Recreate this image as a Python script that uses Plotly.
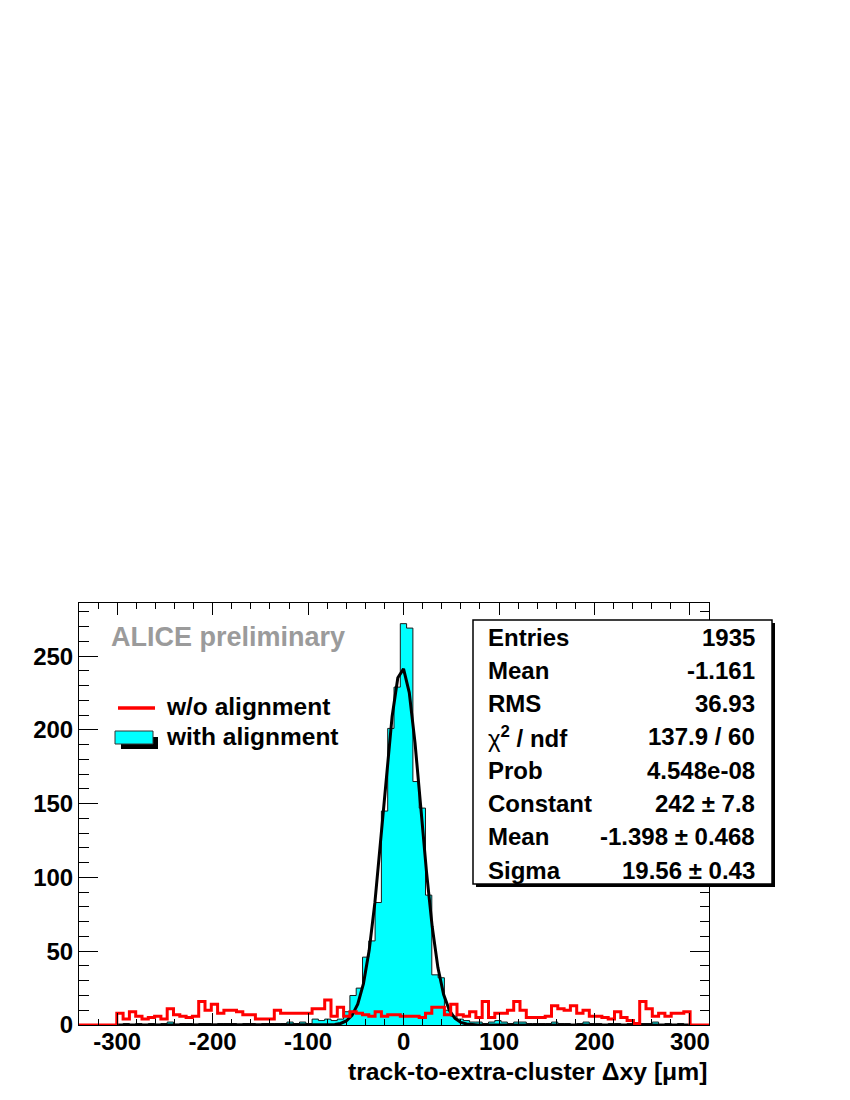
import numpy as np
import plotly.graph_objects as go

# ---------------- data ----------------
x_min, x_max, n_bins = -340.0, 320.0, 100
bin_edges = np.linspace(x_min, x_max, n_bins + 1)

with_alignment = [
    0, 0, 0, 0, 0, 0, 0, 1, 0, 1,
    0, 1, 0, 1, 2, 0, 1, 1, 0, 1,
    1, 0, 1, 1, 1, 0, 1, 1, 0, 1,
    1, 1, 1, 2, 1, 2, 1, 4, 3, 4,
    3, 4, 9, 20, 25, 46, 57, 83, 145, 201,
    229, 272, 269, 165, 147, 88, 34, 32, 10, 6,
    4, 3, 2, 2, 1, 2, 3, 2, 1, 2,
    2, 1, 1, 1, 1, 2, 1, 1, 0, 1,
    2, 1, 1, 0, 1, 1, 0, 1, 0, 1,
    1, 2, 0, 1, 0, 1, 0, 0, 0, 0,
]

without_alignment = [
    0, 0, 0, 0, 0, 0, 8, 4, 9, 6,
    4, 5, 6, 4, 11, 7, 6, 5, 6, 16,
    10, 14, 8, 10, 10, 9, 7, 7, 4, 4,
    4, 10, 8, 8, 8, 8, 8, 11, 11, 17,
    6, 12, 6, 9, 8, 7, 6, 9, 6, 7,
    7, 6, 6, 6, 5, 8, 12, 12, 7, 14,
    7, 6, 9, 5, 16, 5, 8, 8, 10, 16,
    10, 5, 5, 5, 6, 13, 11, 10, 13, 8,
    10, 6, 6, 5, 4, 9, 5, 3, 1, 16,
    11, 6, 8, 6, 8, 8, 9, 0, 0, 0,
]

# Gaussian fit parameters (from stats box)
fit_constant, fit_mean, fit_sigma = 242.0, -1.398, 19.56
fit_range = (-300.0, 300.0)

stat_labels = ["Entries", "Mean", "RMS", "<span style='font-weight:normal'>χ</span><sup>2</sup> / ndf", "Prob",
               "Constant", "Mean", "Sigma"]
stat_values = ["1935", "-1.161", "36.93", "137.9 / 60", "4.548e-08",
               "242 ± 7.8", "-1.398 ± 0.468", "19.56 ± 0.43"]

x_ticks = [-300, -200, -100, 0, 100, 200, 300]
x_ticktext = ["-300", "-200", "-100", "0", "100", "200", "300"]
y_ticks = [0, 50, 100, 150, 200, 250]
y_ticktext = ["0", "50", "100", "150", "200", "250"]

x_title = "track-to-extra-cluster Δxy [μm]"
legend_labels = ["w/o alignment", "with alignment"]
watermark = "ALICE preliminary"

# ---------------- figure ----------------
FONT = "Liberation Sans, Arial, Helvetica, sans-serif"
BODY = 8                      # default page margin around the plot div
W, H = 850 - BODY, 1100 - BODY
L, R, T, B = 79, 709, 603, 1025  # plot area in page pixels


def px_x(px):
    return (px - L) / (R - L)


def px_y(py):
    return (B - py) / (B - T)


fig = go.Figure()

# with alignment (filled step histogram)
fig.add_trace(go.Scatter(
    x=list(bin_edges),
    y=list(with_alignment) + [with_alignment[-1]],
    mode="lines", line=dict(shape="hv", color="#1a1a1a", width=1),
    fill="tozeroy", fillcolor="#00ffff", showlegend=False, hoverinfo="skip",
))

# Gaussian fit
x_fit = np.linspace(fit_range[0], fit_range[1], 101)
y_fit = fit_constant * np.exp(-0.5 * ((x_fit - fit_mean) / fit_sigma) ** 2)
fig.add_trace(go.Scatter(
    x=x_fit, y=y_fit, mode="lines",
    line=dict(color="black", width=3), showlegend=False, hoverinfo="skip",
))

# without alignment (red step outline)
fig.add_trace(go.Scatter(
    x=list(bin_edges),
    y=list(without_alignment) + [without_alignment[-1]],
    mode="lines", line=dict(shape="hv", color="#ff0000", width=3),
    showlegend=False, hoverinfo="skip",
))

tickfont = dict(family=FONT, size=24, color="black", weight="bold")

fig.update_xaxes(
    range=[x_min, x_max], tickmode="array", tickvals=x_ticks, ticktext=x_ticktext,
    ticks="inside", ticklen=12, tickwidth=1, tickcolor="black",
    minor=dict(ticks="inside", dtick=20, tick0=0, ticklen=6, tickcolor="black", tickwidth=1),
    showline=True, linecolor="black", linewidth=1, mirror="allticks",
    showgrid=False, zeroline=False, tickfont=tickfont, layer="above traces",
    ticklabelstandoff=-5,
)
fig.update_yaxes(
    range=[0, 286], tickmode="array", tickvals=y_ticks, ticktext=y_ticktext,
    ticks="inside", ticklen=19, tickwidth=1, tickcolor="black",
    minor=dict(ticks="inside", dtick=10, tick0=0, ticklen=9.5, tickcolor="black", tickwidth=1),
    showline=True, linecolor="black", linewidth=1, mirror="allticks",
    showgrid=False, zeroline=False, tickfont=tickfont, layer="above traces",
)

shapes = []
annotations = []

# stats box with shadow
bx0, bx1, by0, by1 = 473, 772, 620, 884
shapes.append(dict(type="rect", xref="paper", yref="paper",
                   x0=px_x(bx0 + 3), x1=px_x(bx1 + 3), y0=px_y(by1 + 3), y1=px_y(by0 + 3),
                   fillcolor="black", line=dict(width=0), layer="above"))
shapes.append(dict(type="rect", xref="paper", yref="paper",
                   x0=px_x(bx0), x1=px_x(bx1), y0=px_y(by1), y1=px_y(by0),
                   fillcolor="white", line=dict(color="black", width=1.5), layer="above"))
statfont = dict(family=FONT, size=24, color="black", weight="bold")
row0, row_step = 637, 33.3
for i, (lab, val) in enumerate(zip(stat_labels, stat_values)):
    ypos = px_y(row0 + i * row_step)
    annotations.append(dict(text=lab, xref="paper", yref="paper", x=px_x(486), y=ypos,
                            xanchor="left", yanchor="middle", showarrow=False, font=statfont))
    annotations.append(dict(text=val, xref="paper", yref="paper", x=px_x(757), y=ypos,
                            xanchor="right", yanchor="middle", showarrow=False, font=statfont))

# ALICE preliminary
annotations.append(dict(text=watermark, xref="paper", yref="paper", x=px_x(109), y=px_y(637),
                        xanchor="left", yanchor="middle", showarrow=False,
                        font=dict(family=FONT, size=27, color="#9b9b9b", weight="bold")))

# legend
legfont = dict(family=FONT, size=24.5, color="black", weight="bold")
shapes.append(dict(type="line", xref="paper", yref="paper",
                   x0=px_x(118), x1=px_x(155), y0=px_y(708), y1=px_y(708),
                   line=dict(color="#ff0000", width=3.5), layer="above"))
annotations.append(dict(text=legend_labels[0], xref="paper", yref="paper", x=px_x(164), y=px_y(706),
                        xanchor="left", yanchor="middle", showarrow=False, font=legfont))
shapes.append(dict(type="rect", xref="paper", yref="paper",
                   x0=px_x(121), x1=px_x(158), y0=px_y(749), y1=px_y(737),
                   fillcolor="black", line=dict(width=0), layer="above"))
shapes.append(dict(type="rect", xref="paper", yref="paper",
                   x0=px_x(115), x1=px_x(153), y0=px_y(744), y1=px_y(731),
                   fillcolor="#00ffff", line=dict(color="#333333", width=1), layer="above"))
annotations.append(dict(text=legend_labels[1], xref="paper", yref="paper", x=px_x(164), y=px_y(736),
                        xanchor="left", yanchor="middle", showarrow=False, font=legfont))

# x title
annotations.append(dict(text=x_title, xref="paper", yref="paper", x=1.0, y=px_y(1071),
                        xanchor="right", yanchor="middle", showarrow=False,
                        font=dict(family=FONT, size=24.7, color="black", weight="bold")))

fig.update_layout(
    width=W, height=H,
    margin=dict(l=L - BODY, r=W - (R - BODY), t=T - BODY, b=H - (B - BODY), pad=0),
    paper_bgcolor="white", plot_bgcolor="white",
    shapes=shapes, annotations=annotations, showlegend=False,
    font=dict(family=FONT),
)

fig.write_html("out.html")
